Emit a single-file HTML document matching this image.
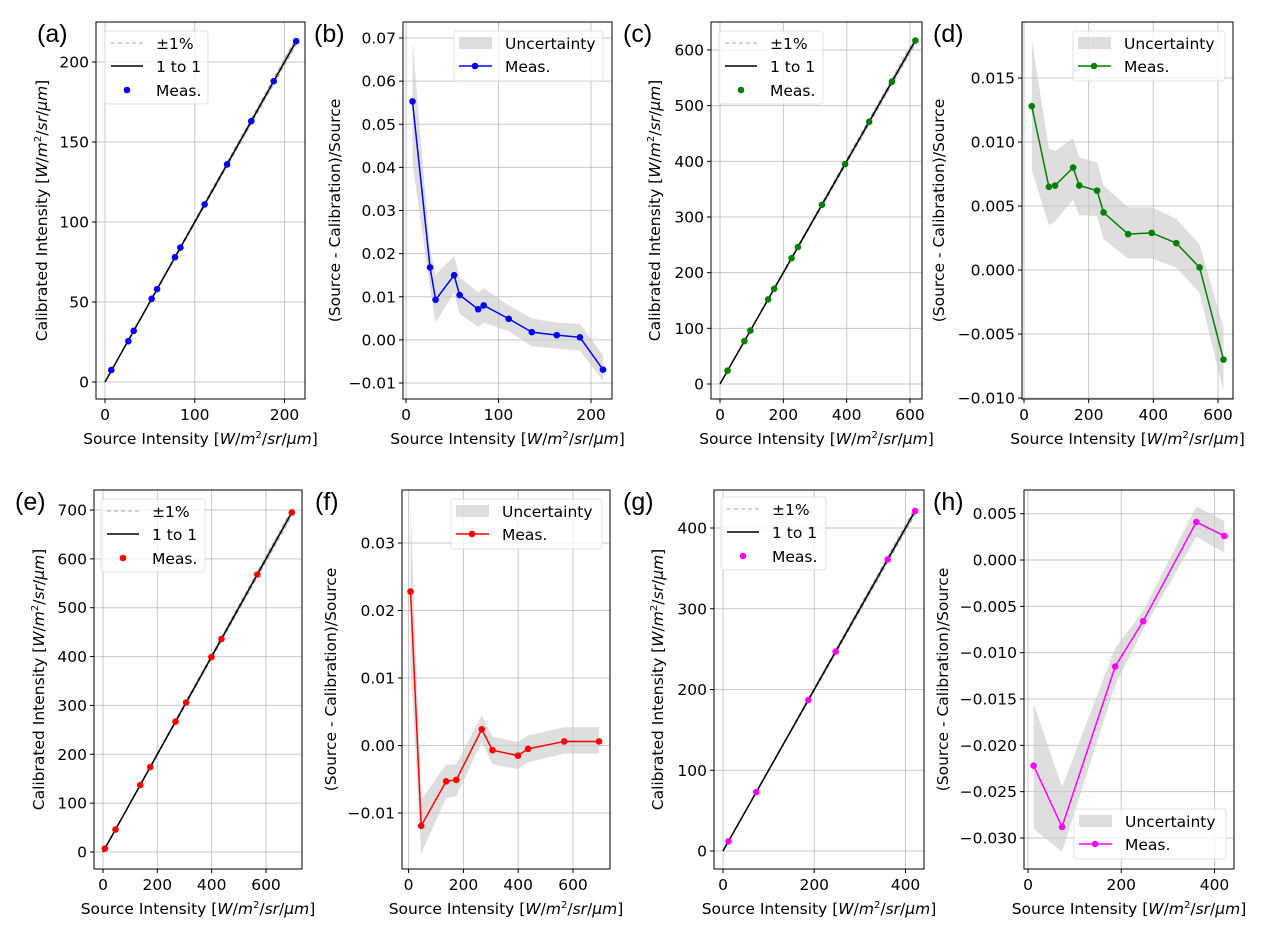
<!DOCTYPE html>
<html><head><meta charset="utf-8"><style>
body{margin:0;background:#fff;}
svg{display:block;font-family:"DejaVu Sans","Liberation Sans",sans-serif;}
</style></head><body>
<svg id="fig" width="1266" height="934" viewBox="0 0 1266 934" xmlns="http://www.w3.org/2000/svg"></svg>
<script>
// ---- data ----
const aX=[7,26,32,52,58,78,84,111,136,163,188,213];
const aY=[7.5,25.5,32,52,58,78,84,111,136,163,188,213];
const bY=[0.0553,0.0168,0.0093,0.0150,0.0104,0.0071,0.0080,0.0049,0.0018,0.0011,0.0006,-0.0069];
const bLo=[0.041,0.012,0.004,0.011,0.006,0.003,0.004,0.002,-0.0015,-0.002,-0.0025,-0.0095];
const bHi=[0.0695,0.021,0.015,0.0195,0.0145,0.011,0.012,0.008,0.005,0.004,0.0037,-0.0035];
const cX=[24,77,96,152,171,226,246,322,395,471,543,617];
const cY=[24,77,96,152,171,226,246,322,395,471,543,617];
const dY=[0.0128,0.0065,0.0066,0.0080,0.0066,0.0062,0.0045,0.0028,0.0029,0.0021,0.0002,-0.0070];
const dLo=[0.0078,0.0035,0.0038,0.0055,0.0043,0.0042,0.0024,0.0009,0.0009,0.0002,-0.0018,-0.0095];
const dHi=[0.018,0.0095,0.0093,0.0103,0.0088,0.0084,0.0066,0.0049,0.0049,0.004,0.002,-0.0045];
const eX=[7,46,137,174,267,306,399,436,568,695];
const eY=[7,46,137,174,267,306,399,436,568,695];
const fY=[0.0228,-0.0119,-0.0053,-0.0051,0.0024,-0.0007,-0.0015,-0.0005,0.0006,0.0006];
const fLo=[0.012,-0.016,-0.0078,-0.0075,0.0005,-0.0028,-0.0035,-0.0025,-0.0012,-0.0012];
const fHi=[0.0355,-0.008,-0.0028,-0.0028,0.0045,0.0013,0.0005,0.0015,0.0027,0.0027];
const gX=[12,73,187,247,361,421];
const gY=[12,73,187,247,361,421];
const hY=[-0.0222,-0.0288,-0.0115,-0.0066,0.0041,0.0026];
const hLo=[-0.029,-0.0315,-0.0135,-0.0075,0.0025,0.0008];
const hHi=[-0.0155,-0.0245,-0.0095,-0.0055,0.0058,0.0042];
const aXTicks=[0,100,200], aYTicks=[0,50,100,150,200];
const bYTicks=[-0.01,0,0.01,0.02,0.03,0.04,0.05,0.06,0.07];
const cXTicks=[0,200,400,600], cYTicks=[0,100,200,300,400,500,600];
const dYTicks=[-0.01,-0.005,0,0.005,0.01,0.015];
const eXTicks=[0,200,400,600], eYTicks=[0,100,200,300,400,500,600,700];
const fYTicks=[-0.01,0,0.01,0.02,0.03];
const gXTicks=[0,200,400], gYTicks=[0,100,200,300,400];
const hYTicks=[-0.03,-0.025,-0.02,-0.015,-0.01,-0.005,0,0.005];

const NS="http://www.w3.org/2000/svg";
const svg=document.getElementById('fig');
function mk(tag,attrs,parent){const e=document.createElementNS(NS,tag);for(const k in attrs)e.setAttribute(k,attrs[k]);(parent||svg).appendChild(e);return e;}
function fmt(v,dec){let s=v.toFixed(dec);if(s.startsWith('-'))s='\u2212'+s.slice(1);if(/^\u22120(\.0+)?$/.test(s))s=s.slice(1);return s;}

function xlabel(g,cx,y){
  const t=mk('text',{x:cx,y:y,'text-anchor':'middle','font-size':15.5,fill:'#000'},g);
  
  
  t.innerHTML='Source Intensity [<tspan font-style="italic">W</tspan>/<tspan font-style="italic">m</tspan><tspan font-size="10" dy="-6">2</tspan><tspan dy="6">/</tspan><tspan font-style="italic">sr</tspan>/<tspan font-style="italic">μm</tspan>]';
}
function ylabelCal(g,x,cy){
  const t=mk('text',{x:0,y:0,transform:`translate(${x},${cy}) rotate(-90)`,'text-anchor':'middle','font-size':15.5,fill:'#000'},g);
  
  
  t.innerHTML='Calibrated Intensity [<tspan font-style="italic">W</tspan>/<tspan font-style="italic">m</tspan><tspan font-size="10" dy="-6">2</tspan><tspan dy="6">/</tspan><tspan font-style="italic">sr</tspan>/<tspan font-style="italic">μm</tspan>]';
}
function ylabelRes(g,x,cy){
  const t=mk('text',{x:0,y:0,transform:`translate(${x},${cy}) rotate(-90)`,'text-anchor':'middle','font-size':15.5,fill:'#000'},g);
  
  
  t.textContent='(Source - Calibration)/Source';
}

function panel(p){
  const g=mk('g',{});
  
  
  const X=v=>p.x0+(v-p.xa)*(p.x1-p.x0)/(p.xb-p.xa);
  const Y=v=>p.y0+(v-p.ya)*(p.y1-p.y0)/(p.yb-p.ya);
  // grid
  p.xt.forEach(v=>{const l=mk('line',{x1:X(v),x2:X(v),y1:p.top,y2:p.bot,stroke:'#b0b0b0','stroke-width':1,opacity:0.7},g);
    
    const t=mk('text',{x:X(v),y:p.bot+21,'text-anchor':'middle','font-size':15.5},g);t.textContent=fmt(v,0);
    
    mk('line',{x1:X(v),x2:X(v),y1:p.bot,y2:p.bot+4,stroke:'#000'},g);});
  p.yt.forEach(v=>{const l=mk('line',{x1:p.left,x2:p.right,y1:Y(v),y2:Y(v),stroke:'#b0b0b0','stroke-width':1,opacity:0.7},g);
    
    const t=mk('text',{x:p.left-7,y:Y(v)+5.5,'text-anchor':'end','font-size':15.5},g);t.textContent=fmt(v,p.dec);
    
    mk('line',{x1:p.left-4,x2:p.left,y1:Y(v),y2:Y(v),stroke:'#000'},g);});
  if(p.type==='cal'){
    const mx=p.xs[p.xs.length-1];
    const band=mk('polygon',{points:`${X(0)},${Y(0)} ${X(mx)},${Y(mx*1.01)} ${X(mx)},${Y(mx*0.99)}`,fill:'#c8c8c8',opacity:0.6},g);
    
    [1.01,0.99].forEach(f=>{const l=mk('line',{x1:X(0),y1:Y(0),x2:X(mx),y2:Y(mx*f),stroke:'#aaa','stroke-dasharray':'4 3','stroke-width':1},g);
      });
    const one=mk('line',{x1:X(0),y1:Y(0),x2:X(mx),y2:Y(mx),stroke:'#000','stroke-width':1.5},g);
    
    p.xs.forEach((v,i)=>{const c=mk('circle',{cx:X(v),cy:Y(p.ys[i]),r:3.3,fill:p.color},g);
      });
    ylabelCal(g,p.ylx,(p.top+p.bot)/2);
  } else {
    let pts=p.xs.map((v,i)=>`${X(v)},${Y(p.hi[i])}`);
    for(let i=p.xs.length-1;i>=0;i--)pts.push(`${X(p.xs[i])},${Y(p.lo[i])}`);
    const band=mk('polygon',{points:pts.join(' '),fill:'#c8c8c8',opacity:0.6},g);
    
    const line=mk('polyline',{points:p.xs.map((v,i)=>`${X(v)},${Y(p.ys[i])}`).join(' '),fill:'none',stroke:p.color,'stroke-width':1.5},g);
    
    p.xs.forEach((v,i)=>{const c=mk('circle',{cx:X(v),cy:Y(p.ys[i]),r:3.3,fill:p.color},g);
      });
    ylabelRes(g,p.ylx,(p.top+p.bot)/2);
  }
  const box=mk('rect',{x:p.left,y:p.top,width:p.right-p.left,height:p.bot-p.top,fill:'none',stroke:'#000','stroke-width':1},g);
  
  xlabel(g,(p.left+p.right)/2,p.bot+45);
  // legend
  const L=p.leg;
  const lg=mk('g',{},g);
  
  
  const h=p.type==='cal'?73:50;
  mk('rect',{x:L[0],y:L[1],width:L[2],height:h,rx:3,fill:'#fff',opacity:0.8,stroke:'#ddd'},lg);
  if(p.type==='cal'){
    const e1=mk('line',{x1:L[0]+6,x2:L[0]+38,y1:L[1]+12,y2:L[1]+12,stroke:'#aaa','stroke-dasharray':'4 3'},lg);
    
    let t=mk('text',{x:L[0]+51,y:L[1]+18,'font-size':15.5},lg);t.textContent='±1%';
    const e2=mk('line',{x1:L[0]+6,x2:L[0]+38,y1:L[1]+35,y2:L[1]+35,stroke:'#000','stroke-width':1.5},lg);
    
    t=mk('text',{x:L[0]+51,y:L[1]+41,'font-size':15.5},lg);t.textContent='1 to 1';
    const e3=mk('circle',{cx:L[0]+22,cy:L[1]+59,r:3.3,fill:p.color},lg);
    
    t=mk('text',{x:L[0]+51,y:L[1]+65,'font-size':15.5},lg);t.textContent='Meas.';
  } else {
    const e1=mk('rect',{x:L[0]+5,y:L[1]+6,width:33,height:12,fill:'#c8c8c8',opacity:0.6},lg);
    
    let t=mk('text',{x:L[0]+51,y:L[1]+18,'font-size':15.5},lg);t.textContent='Uncertainty';
    const e2=mk('line',{x1:L[0]+5,x2:L[0]+38,y1:L[1]+35,y2:L[1]+35,stroke:p.color,'stroke-width':1.5},lg);
    
    mk('circle',{cx:L[0]+21,cy:L[1]+35,r:3.3,fill:p.color},lg);
    t=mk('text',{x:L[0]+51,y:L[1]+41,'font-size':15.5},lg);t.textContent='Meas.';
  }
  const lt=mk('text',{x:p.lx,y:p.ly,'font-family':'Liberation Sans, sans-serif','font-size':25},g);
  lt.textContent='('+p.id+')';
  
}
const TOP=[22,399], BOT=[490,869];
panel({id:'a',type:'cal',color:'#0000ff',xs:aX,ys:aY,xt:aXTicks,yt:aYTicks,dec:0,left:96,right:305,top:TOP[0],bot:TOP[1],x0:105,x1:284.5,xa:0,xb:200,y0:382,y1:62,ya:0,yb:200,ylx:47,leg:[105,31,103],lx:37,ly:42});
panel({id:'b',type:'res',color:'#0000ff',xs:aX,ys:bY,lo:bLo,hi:bHi,xt:aXTicks,yt:bYTicks,dec:2,left:403,right:612,top:TOP[0],bot:TOP[1],x0:406,x1:591,xa:0,xb:200,y0:383,y1:38,ya:-0.01,yb:0.07,ylx:340,leg:[454,31,149],lx:314,ly:42});
panel({id:'c',type:'cal',color:'#008000',xs:cX,ys:cY,xt:cXTicks,yt:cYTicks,dec:0,left:711,right:922,top:TOP[0],bot:TOP[1],x0:720,x1:910,xa:0,xb:600,y0:384,y1:50,ya:0,yb:600,ylx:660,leg:[719,31,104],lx:623,ly:42});
panel({id:'d',type:'res',color:'#008000',xs:cX,ys:dY,lo:dLo,hi:dHi,xt:cXTicks,yt:dYTicks,dec:3,left:1022,right:1233,top:TOP[0],bot:TOP[1],x0:1024,x1:1218,xa:0,xb:600,y0:398,y1:78,ya:-0.01,yb:0.015,ylx:944,leg:[1073,31,152],lx:933,ly:42});
panel({id:'e',type:'cal',color:'#ff0000',xs:eX,ys:eY,xt:eXTicks,yt:eYTicks,dec:0,left:94,right:302,top:BOT[0],bot:BOT[1],x0:103,x1:266,xa:0,xb:600,y0:852,y1:510,ya:0,yb:700,ylx:44,leg:[101,499,104],lx:15,ly:510});
panel({id:'f',type:'res',color:'#ff0000',xs:eX,ys:fY,lo:fLo,hi:fHi,xt:eXTicks,yt:fYTicks,dec:2,left:402,right:610,top:BOT[0],bot:BOT[1],x0:408.6,x1:573,xa:0,xb:600,y0:813,y1:543,ya:-0.01,yb:0.03,ylx:336,leg:[451,499,151],lx:315,ly:510});
panel({id:'g',type:'cal',color:'#ff00ff',xs:gX,ys:gY,xt:gXTicks,yt:gYTicks,dec:0,left:714,right:924,top:BOT[0],bot:BOT[1],x0:723,x1:905.5,xa:0,xb:400,y0:851,y1:528,ya:0,yb:400,ylx:663,leg:[721,497,105],lx:623,ly:510});
panel({id:'h',type:'res',color:'#ff00ff',xs:gX,ys:hY,lo:hLo,hi:hHi,xt:gXTicks,yt:hYTicks,dec:3,left:1024,right:1234,top:BOT[0],bot:BOT[1],x0:1028,x1:1214.5,xa:0,xb:400,y0:838,y1:513.7,ya:-0.03,yb:0.005,ylx:948,leg:[1074,809,152],lx:933,ly:510});
</script>
</body></html>
